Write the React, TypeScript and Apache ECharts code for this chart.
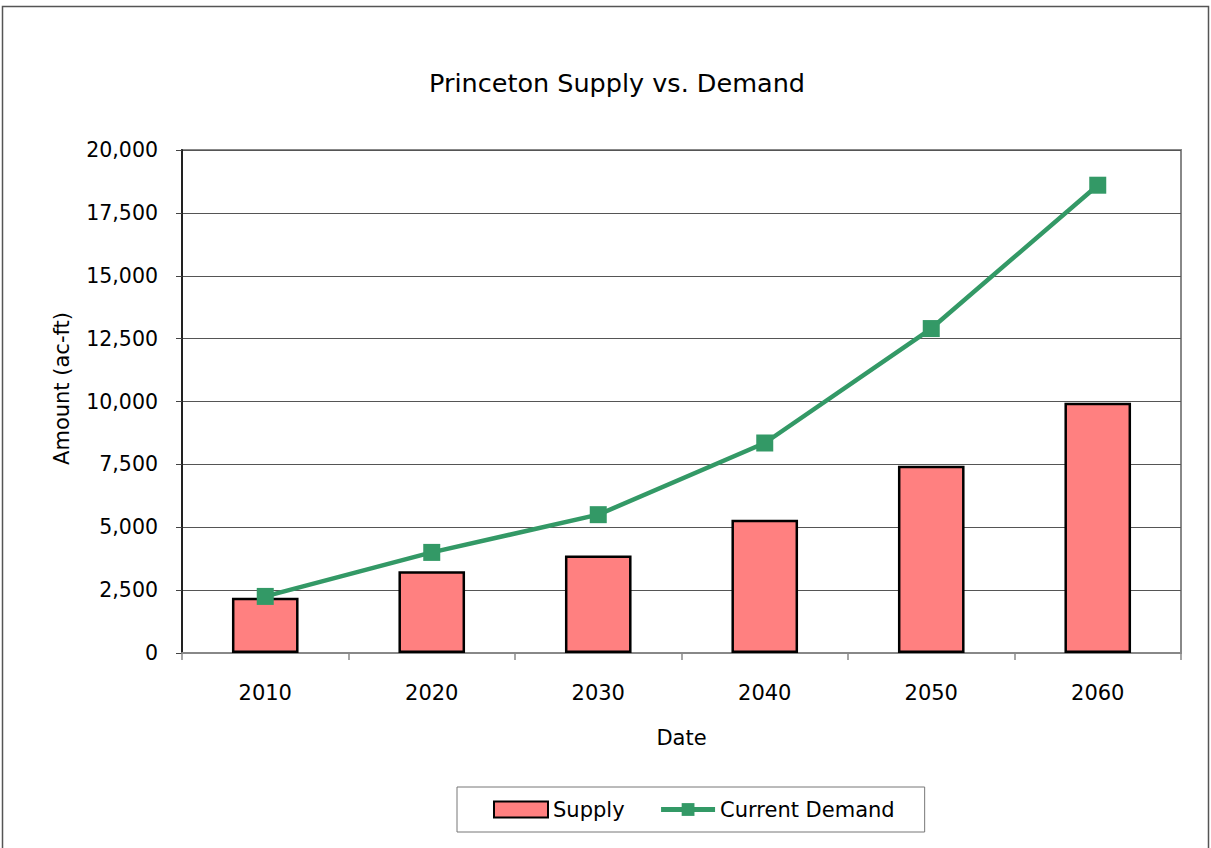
import React, { useEffect, useRef } from "react";
import * as echarts from "echarts";

const categories = ["2010", "2020", "2030", "2040", "2050", "2060"];
const supply = [2200, 3250, 3880, 5300, 7450, 9950];
const currentDemand = [2250, 4000, 5500, 8350, 12900, 18600];
const FONT = "'DejaVu Sans', sans-serif";

export default function App() {
  const ref = useRef<HTMLDivElement>(null);
  useEffect(() => {
    const chart = echarts.init(ref.current!, null, { renderer: "svg" });
    chart.setOption({
      animation: false,
      backgroundColor: "#ffffff",
      textStyle: { fontFamily: FONT, color: "#000" },
      graphic: [
        {
          type: "rect",
          shape: { x: 2.5, y: 6.5, width: 1206, height: 860 },
          style: { fill: "none", stroke: "#555", lineWidth: 1.5 },
          silent: true,
          z: -1,
        },
        {
          type: "rect",
          shape: { x: 182, y: 150, width: 999, height: 503 },
          style: { fill: "none", stroke: "#888", lineWidth: 2 },
          silent: true,
          z: 0,
        },
        {
          type: "text",
          x: 617,
          y: 83,
          style: {
            text: "Princeton Supply vs. Demand",
            fontFamily: FONT,
            fontSize: 25.5,
            fill: "#000",
            textAlign: "center",
            textVerticalAlign: "middle",
          },
          silent: true,
        },
      ],
      legend: {
        left: 457,
        top: 787,
        padding: [12, 30, 12, 36],
        borderColor: "#777",
        borderWidth: 1,
        itemWidth: 54,
        itemHeight: 16,
        itemGap: 34,
        textStyle: { fontFamily: FONT, fontSize: 21, color: "#000" },
        data: [
          { name: "Supply", icon: "rect" },
          { name: "Current Demand", lineStyle: { width: 5 } },
        ],
      },
      grid: { left: 182, top: 150, width: 999, height: 503, containLabel: false },
      xAxis: {
        type: "category",
        data: categories,
        name: "Date",
        nameLocation: "middle",
        nameGap: 74,
        nameTextStyle: { fontFamily: FONT, fontSize: 21, color: "#000" },
        axisLine: { lineStyle: { color: "#888", width: 2 } },
        axisTick: { show: true, alignWithLabel: false, length: 7, lineStyle: { color: "#888", width: 1.5 } },
        axisLabel: { fontFamily: FONT, fontSize: 21, color: "#000", margin: 29 },
      },
      yAxis: {
        type: "value",
        min: 0,
        max: 20000,
        interval: 2500,
        name: "Amount (ac-ft)",
        nameLocation: "middle",
        nameGap: 110,
        nameTextStyle: { fontFamily: FONT, fontSize: 21, color: "#000", padding: [0, 0, 0, 26] },
        axisLine: { show: true, lineStyle: { color: "#222", width: 2 } },
        axisTick: { show: true, length: 6, lineStyle: { color: "#444" } },
        axisLabel: {
          fontFamily: FONT,
          fontSize: 20.5,
          color: "#000",
          margin: 24,
          formatter: (v: number) => v.toLocaleString("en-US"),
        },
        splitLine: { lineStyle: { color: "#555", width: 1 } },
      },
      series: [
        {
          name: "Supply",
          type: "bar",
          data: supply,
          barWidth: "40%",
          itemStyle: { color: "#FF8080", borderColor: "#000", borderWidth: 2.5 },
          z: 2,
        },
        {
          name: "Current Demand",
          type: "line",
          data: currentDemand,
          symbol: "rect",
          symbolSize: 17,
          lineStyle: { color: "#339966", width: 4.5 },
          itemStyle: { color: "#339966" },
          z: 3,
        },
      ],
    });
    return () => chart.dispose();
  }, []);
  return (
    <div
      ref={ref}
      style={{ position: "fixed", left: 0, top: 0, width: 1211, height: 848 }}
    />
  );
}
